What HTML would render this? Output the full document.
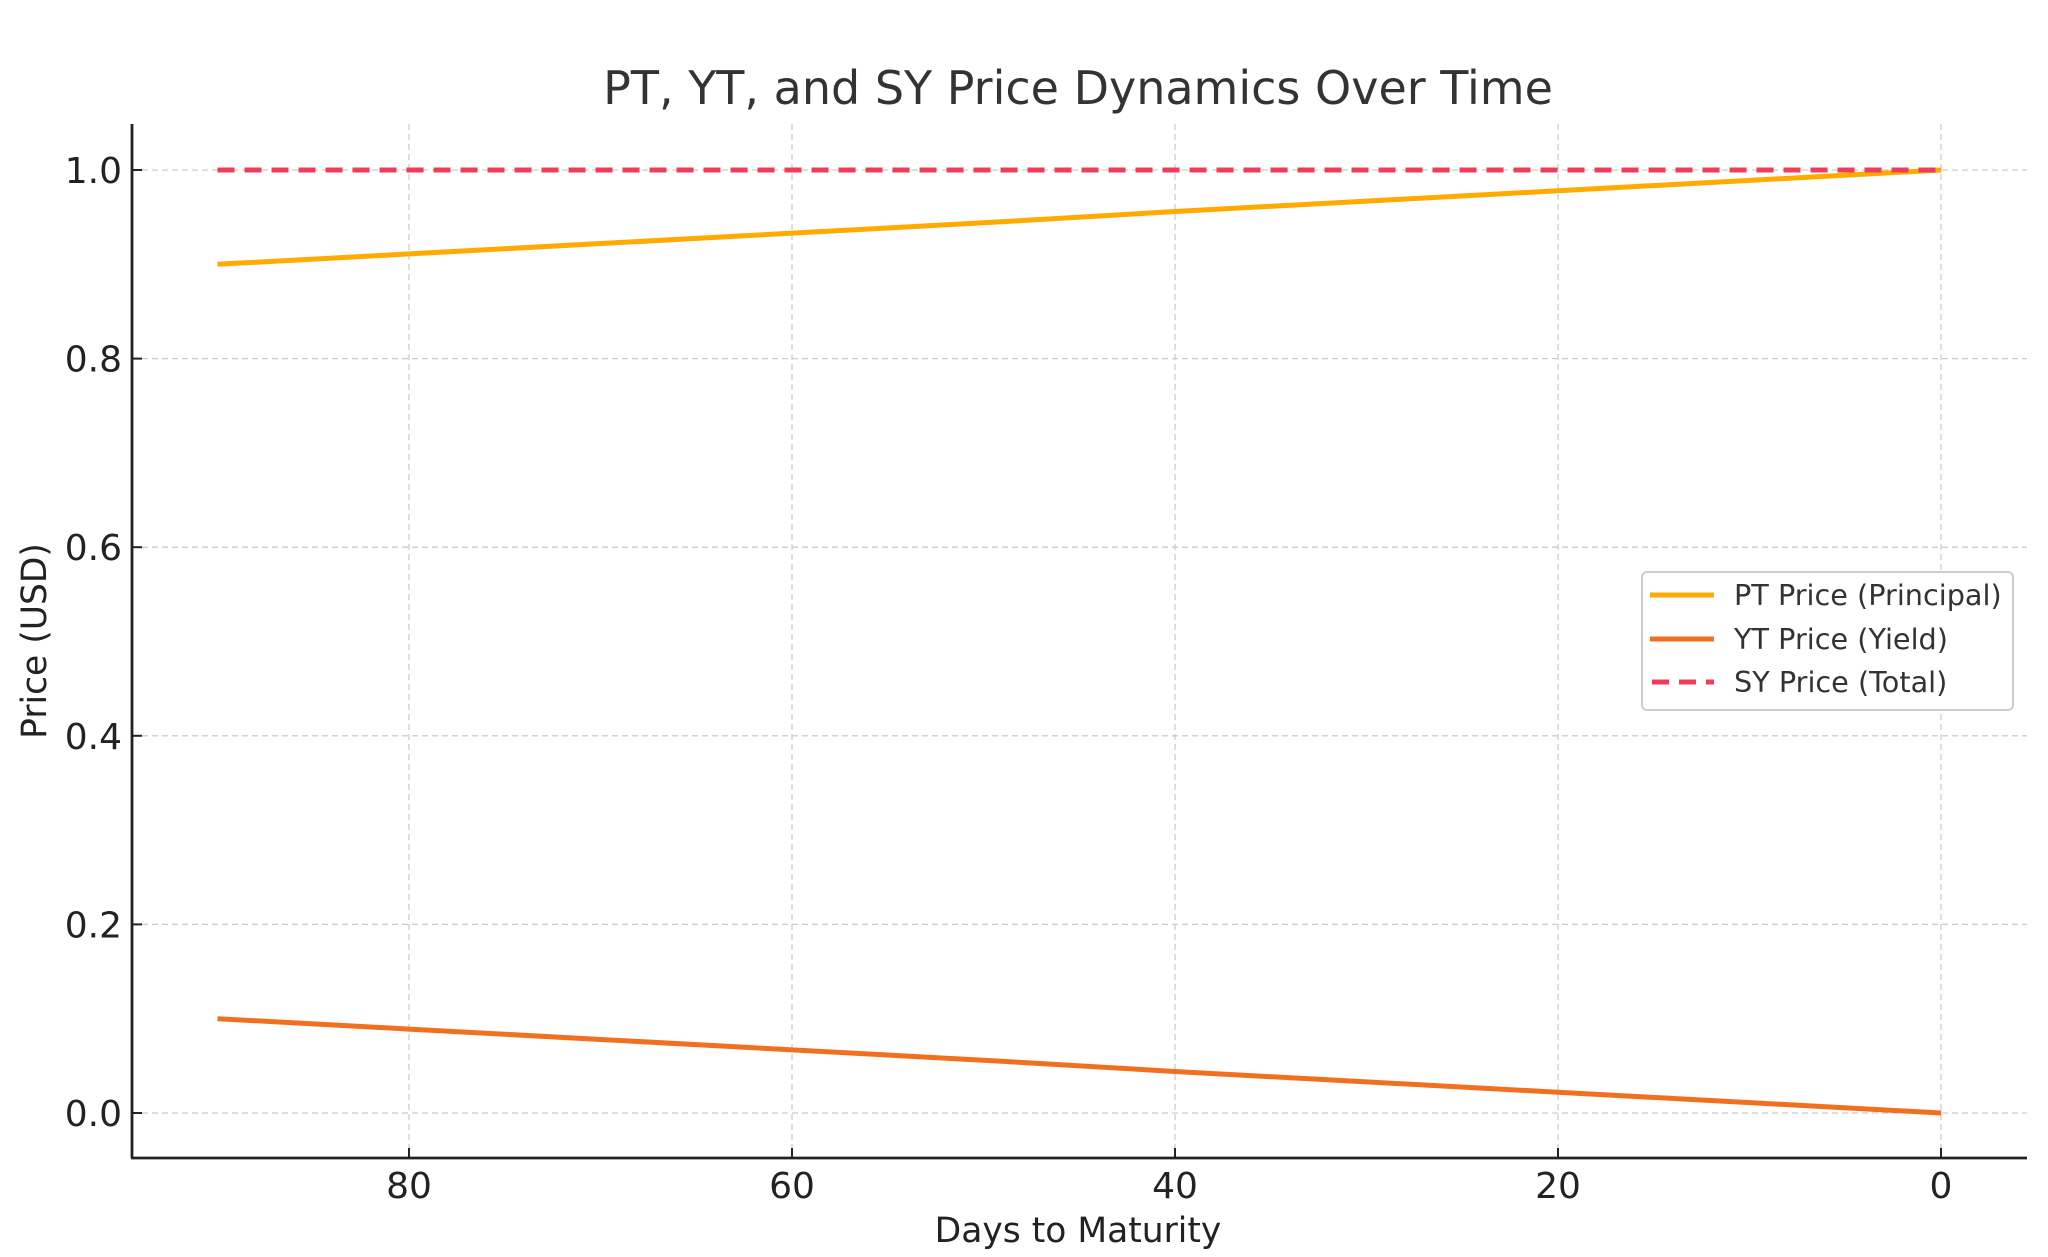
<!DOCTYPE html>
<html><head><meta charset="utf-8"><style>
html,body{margin:0;padding:0;background:#fff;}
svg{display:block;font-family:"DejaVu Sans","Liberation Sans",sans-serif;}
</style></head><body>
<svg id="chart" width="2048" height="1257" viewBox="0 0 2048 1257" xmlns="http://www.w3.org/2000/svg">
<rect width="2048" height="1257" fill="#fff"/>
<text x="1078" y="104" text-anchor="middle" font-size="46" fill="#333">PT, YT, and SY Price Dynamics Over Time</text>
<g id="grid"></g>
<g id="ticks"></g>
<g id="series"></g>
<line x1="132" y1="124" x2="132" y2="1158" stroke="#222" stroke-width="2.8"/>
<line x1="131" y1="1158" x2="2027" y2="1158" stroke="#222" stroke-width="2.8"/>
<text x="1078" y="1242" text-anchor="middle" font-size="34.5" fill="#222">Days to Maturity</text>
<text x="0" y="0" transform="translate(46,641) rotate(-90)" text-anchor="middle" font-size="34.5" fill="#222">Price (USD)</text>
<g>
<rect x="1642" y="572" width="371" height="138" rx="5" fill="#fff" stroke="#ccc" stroke-width="2"/>
<line x1="1650" y1="595" x2="1714" y2="595" stroke="#FFAA00" stroke-width="5"/>
<text x="1734" y="605" font-size="28.7" fill="#333">PT Price (Principal)</text>
<line x1="1650" y1="639" x2="1714" y2="639" stroke="#F07020" stroke-width="5"/>
<text x="1734" y="649" font-size="28.7" fill="#333">YT Price (Yield)</text>
<line x1="1652" y1="682" x2="1714" y2="682" stroke="#F03C5A" stroke-width="5" stroke-dasharray="17,10"/>
<text x="1734" y="692" font-size="28.7" fill="#333">SY Price (Total)</text>
</g>
</svg>
<script>
const days = [90,80,70,60,50,40,30,20,10,0];
const ptPrice = [0.900,0.911,0.922,0.933,0.944,0.956,0.967,0.978,0.989,1.000];
const ytPrice = [0.100,0.089,0.078,0.067,0.056,0.044,0.033,0.022,0.011,0.000];
const syPrice = [1,1,1,1,1,1,1,1,1,1];
const xTicks = [80,60,40,20,0];
const yTicks = [0.0,0.2,0.4,0.6,0.8,1.0];
const yTickLabels = ["0.0","0.2","0.4","0.6","0.8","1.0"];

const NS = "http://www.w3.org/2000/svg";
const X = d => 1941 + (0 - d) * (1941 - 409) / 80;
const Y = v => 1113 - v * (1113 - 170);
function mk(tag, attrs, parent){const e=document.createElementNS(NS,tag);for(const k in attrs)e.setAttribute(k,attrs[k]);parent.appendChild(e);return e;}
const grid=document.getElementById('grid'), ticks=document.getElementById('ticks'), series=document.getElementById('series');
xTicks.forEach(t=>{
  const g=mk('line',{x1:X(t),y1:124,x2:X(t),y2:1158,stroke:'#ccc','stroke-width':1.3,'stroke-dasharray':'6,4'},grid);
  
  
  const tk=mk('line',{x1:X(t),y1:1158,x2:X(t),y2:1148,stroke:'#222','stroke-width':2},ticks);
  
  
  const tx=mk('text',{x:X(t),y:1198,'text-anchor':'middle','font-size':36,fill:'#222'},ticks);
  tx.textContent=String(t);
  
  
});
yTicks.forEach((t,i)=>{
  const g=mk('line',{x1:132,y1:Y(t),x2:2027,y2:Y(t),stroke:'#ccc','stroke-width':1.3,'stroke-dasharray':'6,4'},grid);
  
  
  const tk=mk('line',{x1:132,y1:Y(t),x2:142,y2:Y(t),stroke:'#222','stroke-width':2},ticks);
  
  
  const tx=mk('text',{x:122,y:Y(t)+13,'text-anchor':'end','font-size':36,fill:'#222'},ticks);
  tx.textContent=yTickLabels[i];
  
  
});
function line(vals,color,dash,name){
  const p=mk('polyline',{points:days.map((d,i)=>X(d)+','+Y(vals[i])).join(' '),fill:'none',stroke:color,'stroke-width':5},series);
  if(dash)p.setAttribute('stroke-dasharray',dash);
  
  
}
line(ptPrice,'#FFAA00',null,'pt-price-line');
line(ytPrice,'#F07020',null,'yt-price-line');
line(syPrice,'#F03C5A','17,10','sy-price-line');
</script>
</body></html>
